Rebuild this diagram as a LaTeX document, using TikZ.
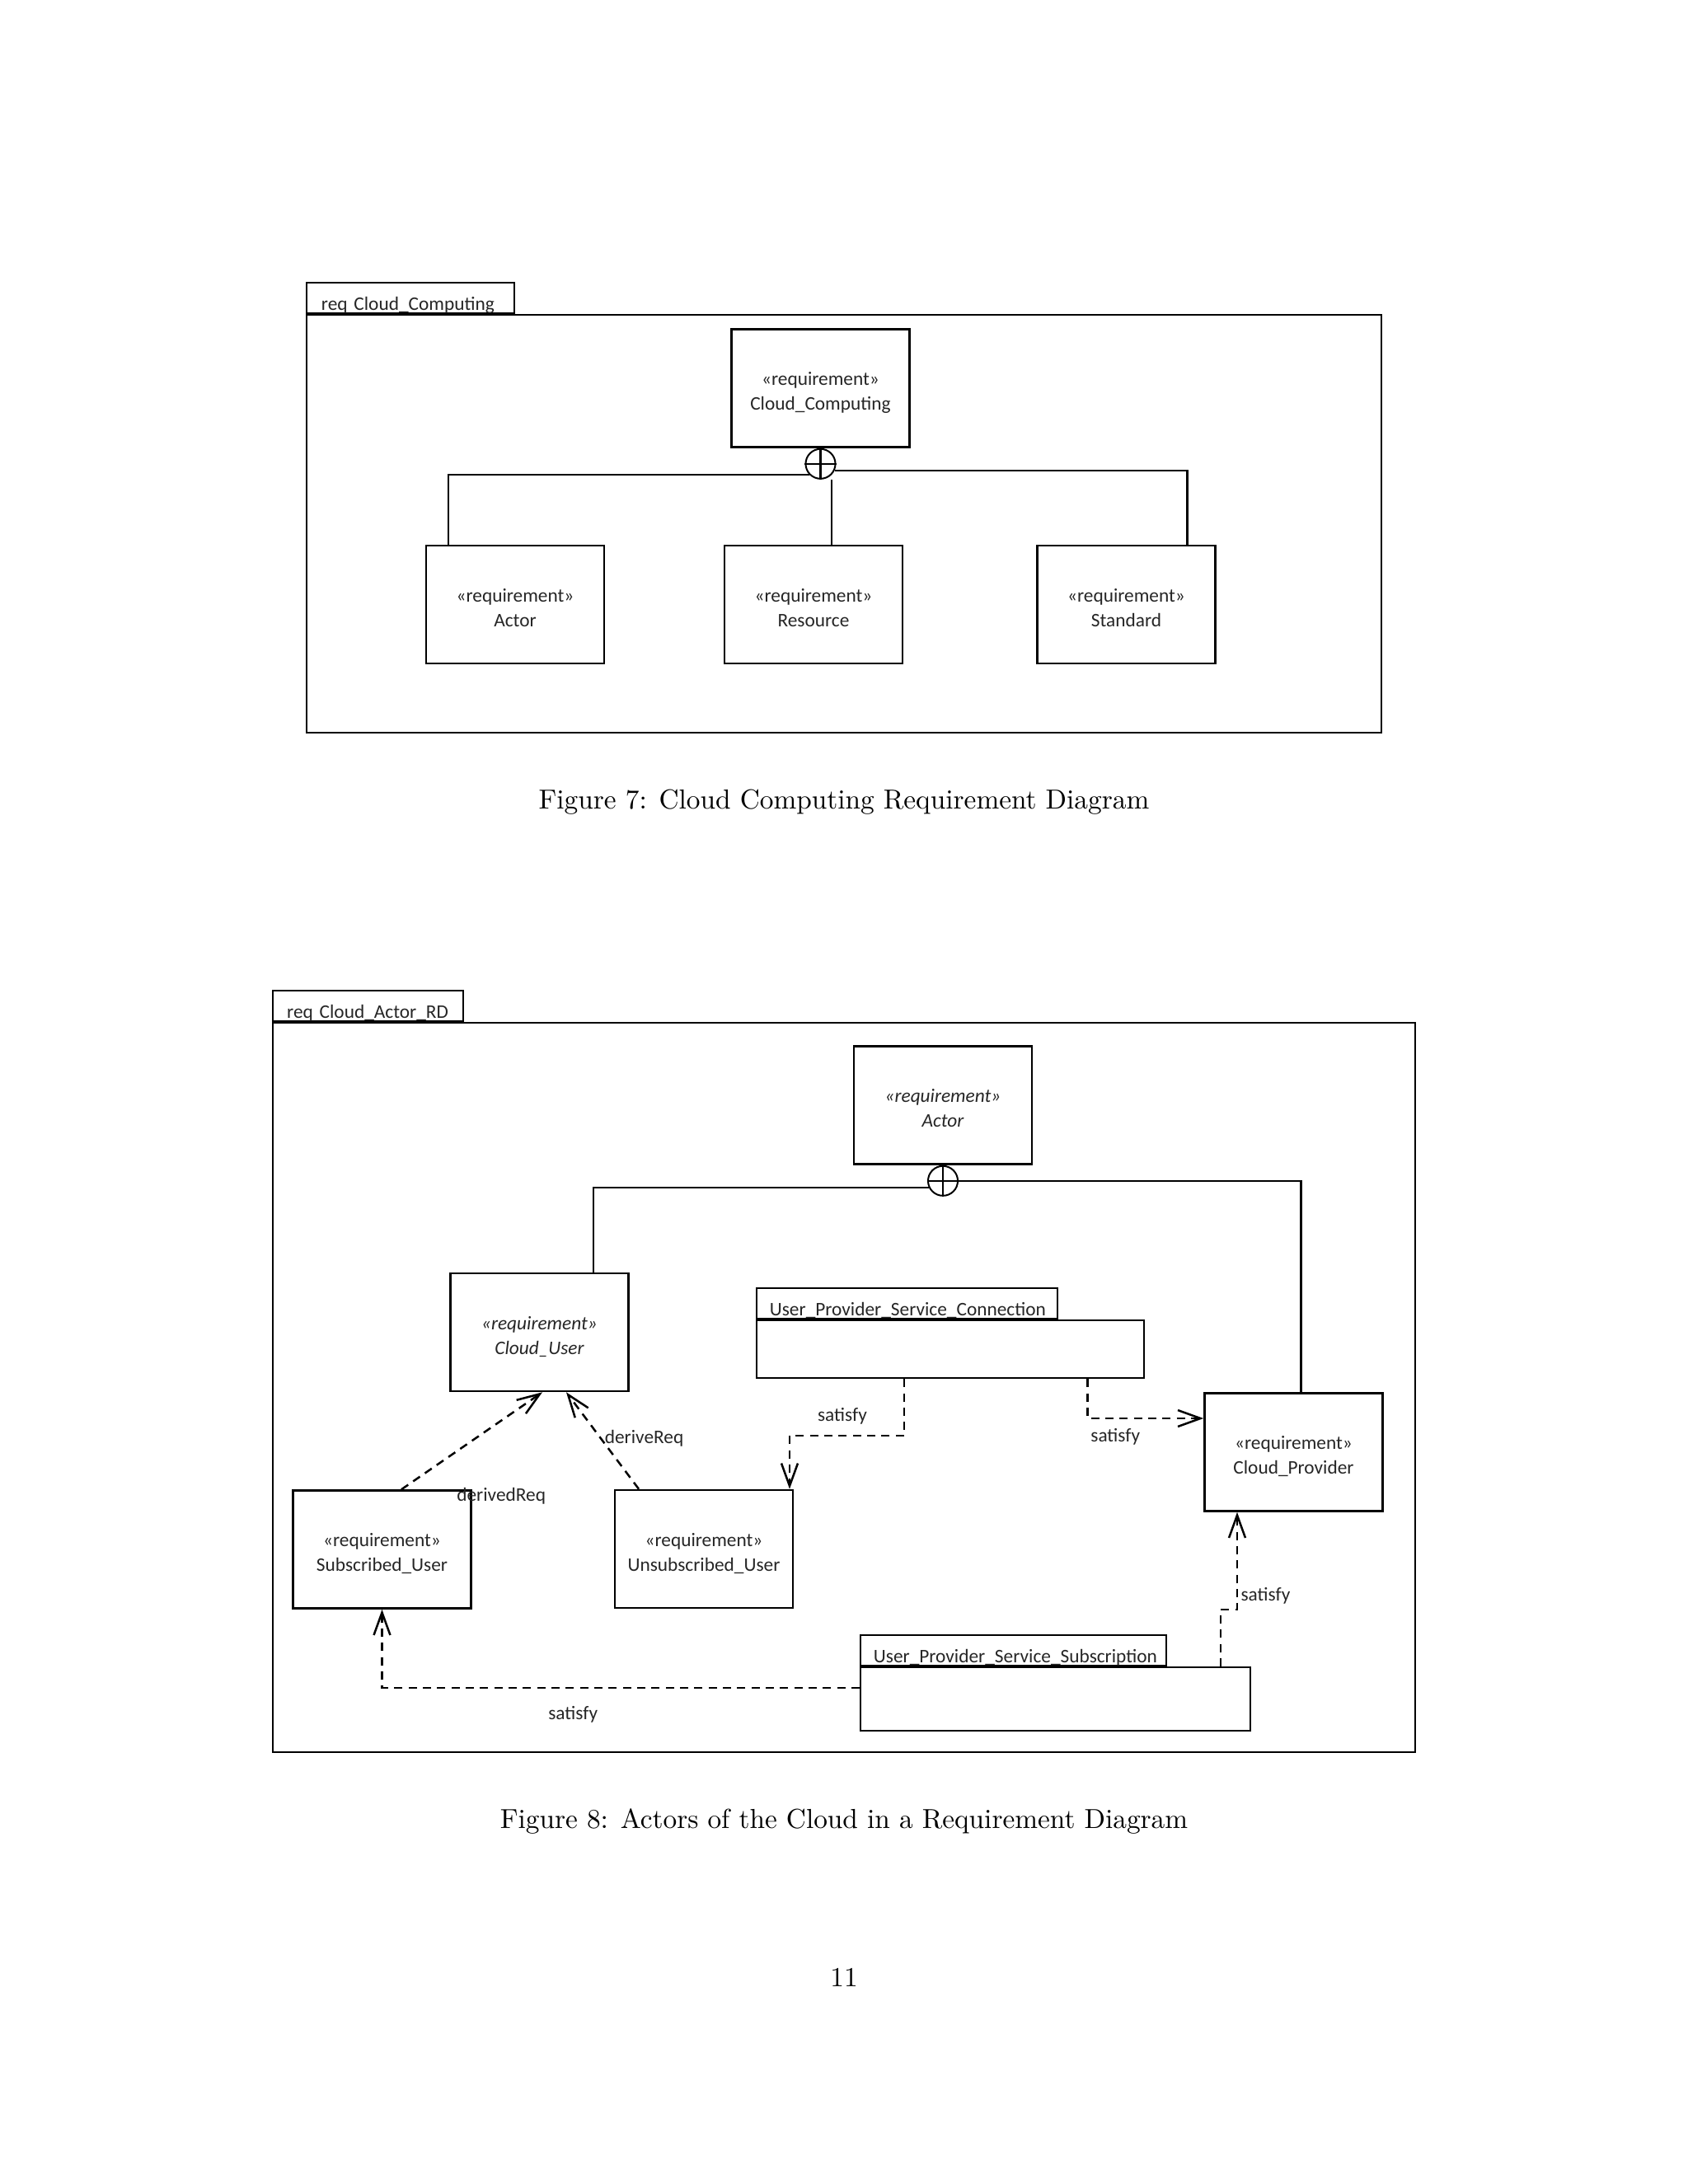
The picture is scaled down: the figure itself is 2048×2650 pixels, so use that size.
\documentclass[tikz,border=0pt]{standalone}
\usepackage{fontspec}
\newfontfamily\umlfont{Carlito}
\usetikzlibrary{calc,arrows.meta,positioning}

\tikzset{
  uml/.style={font=\umlfont\fontsize{7}{9}\selectfont, text=black!85},
  umlit/.style={font=\umlfont\fontsize{7}{9}\selectfont\itshape, text=black!85},
  reqbox/.style={uml, draw, line width=0.7pt, align=center,
    minimum width=2.28cm, minimum height=1.51cm, inner sep=1pt,
    text height=16pt, text depth=0pt},
  framebox/.style={draw, line width=0.6pt, inner sep=0pt},
  tabbox/.style={uml, draw, line width=0.6pt, align=left, inner ysep=0pt,
    text height=10pt, text depth=1pt},
  blockbody/.style={draw, line width=0.7pt, inner sep=0pt},
  contain/.style={draw, circle, line width=0.6pt, inner sep=0pt, minimum size=0.38cm},
  assoc/.style={line width=0.7pt},
  depline/.style={line width=0.75pt, dash pattern=on 3pt off 2.2pt,
    -{Straight Barb[length=2.9mm,width=2.1mm]}},
  lbl/.style={uml}
}

\begin{document}
\begin{tikzpicture}[x=0.010542cm, y=-0.010542cm]

  % page area, in pixel units of the scanned page
  \useasboundingbox (0,0) rectangle (2048,2650);

  % ---------------- Figure 7 ----------------
  \node[framebox, minimum width=13.75cm, minimum height=5.35cm] (frame7) at (1024,635.5) {};
  \node[tabbox, text width=2.28cm, inner xsep=0.19cm, above right=0pt of frame7.north west] (tab7) {req Cloud\_Computing};

  \node[reqbox] (cc) at (995.5,471) {«requirement»\\Cloud\_Computing};
  \node[contain, below=0pt of cc] (cp7) {};

  \node[reqbox] (a7) at (625,733.5)    {«requirement»\\Actor};
  \node[reqbox] (r7) at (987,733.5)    {«requirement»\\Resource};
  \node[reqbox] (s7) at (1366.5,733.5) {«requirement»\\Standard};

  % containment links
  \coordinate (r7top) at ($(r7.north)+(22,0)$);
  \draw[assoc] (cp7.north) -- (cp7.south) (cp7.west) -- (cp7.east);
  \draw[assoc] (cp7.225) -| ($(a7.north)+(-81,0)$);
  \draw[assoc] (cp7.-25) -| ($(s7.north)+(74,0)$);
  \draw[assoc] (r7top) -- (r7top |- cp7.south);

  \node (cap7) at (1024,973) {Figure 7: Cloud Computing Requirement Diagram};

  % ---------------- Figure 8 ----------------
  \node[framebox, minimum width=14.61cm, minimum height=9.33cm] (frame8) at (1024,1683.5) {};
  \node[tabbox, text width=2.07cm, inner xsep=0.18cm, above right=0pt of frame8.north west] (tab8) {req Cloud\_Actor\_RD};

  \node[reqbox, umlit] (a8) at (1144,1341) {«requirement»\\Actor};
  \node[contain, below=0pt of a8] (cp8) {};

  \node[reqbox, umlit] (cu) at (654.5,1616.5) {«requirement»\\Cloud\_User};
  \node[reqbox] (cprov) at (1569.5,1762) {«requirement»\\Cloud\_Provider};
  \node[reqbox] (su) at (463.5,1880) {«requirement»\\Subscribed\_User};
  \node[reqbox] (un) at (854,1879.5) {«requirement»\\Unsubscribed\_User};

  % blocks with name tabs
  \node[blockbody, minimum width=4.955cm, minimum height=0.738cm] (bconn) at (1153,1637) {};
  \node[tabbox, text width=3.51cm, inner xsep=0.169cm, above right=0pt of bconn.north west] (tconn) {User\_Provider\_Service\_Connection};
  \node[blockbody, minimum width=4.986cm, minimum height=0.812cm] (bsub) at (1280.5,2061.5) {};
  \node[tabbox, text width=3.574cm, inner xsep=0.169cm, above right=0pt of bsub.north west] (tsub) {User\_Provider\_Service\_Subscription};

  % containment links
  \draw[assoc] (cp8.north) -- (cp8.south) (cp8.west) -- (cp8.east);
  \draw[assoc] (cp8.205) -| ($(cu.north)+(65.5,0)$);
  \draw[assoc] (cp8.east) -| ($(cprov.north)+(9,0)$);

  % derive links
  \draw[depline] ($(su.north)+(23.5,0)$) -- ($(cu.south)+(3.5,0)$)
    node[lbl, at start, anchor=west, xshift=0.58cm, yshift=-0.08cm] {derivedReq};
  \draw[depline] ($(un.north)+(-79,0)$) -- ($(cu.south)+(32.5,0)$)
    node[lbl, pos=0.52, anchor=west, inner sep=1pt] {deriveReq};

  % satisfy links
  \draw[depline] ($(bconn.south)+(-56,0)$) -- ++(0,69) -| ($(un.north)+(104,0)$)
    node[lbl, pos=0.27, above=0.02cm] {satisfy};
  \draw[depline] ($(bconn.south)+(166.5,0)$) |- ($(cprov.west)+(0,-41)$)
    node[lbl, pos=0.62, below] {satisfy};
  \draw[depline] ($(bsub.north)+(200.5,0)$) -- ++(0,-69) -| ($(cprov.south)+(-68.5,0)$)
    node[lbl, pos=0.57, right, inner sep=1pt] {satisfy};
  \draw[depline] ($(bsub.west)+(0,-13.5)$) -| (su.south)
    node[lbl, pos=0.3, below=0.11cm] {satisfy};

  \node (cap8) at (1024,2210) {Figure 8: Actors of the Cloud in a Requirement Diagram};

  % page number
  \node (pnum) at (1024,2399) {11};

\end{tikzpicture}
\end{document}
